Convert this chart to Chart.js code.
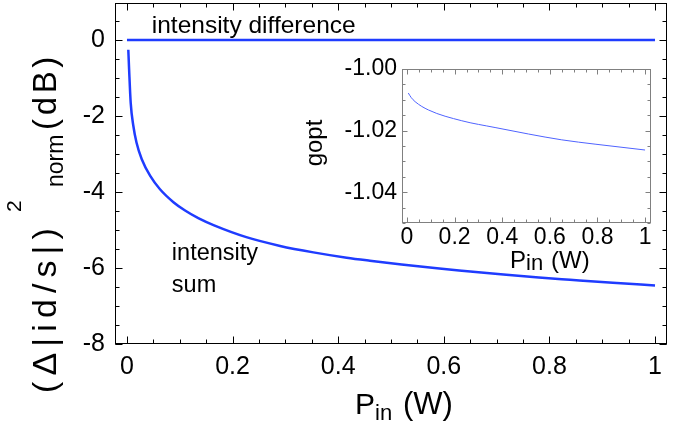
<!DOCTYPE html>
<html><head><meta charset="utf-8">
<script src="https://cdn.jsdelivr.net/npm/chart.js@4.4.1/dist/chart.umd.min.js"></script>
<style>
html,body{margin:0;padding:0;background:#fff;}
#wrap{position:relative;width:686px;height:426px;overflow:hidden;}
#main{position:absolute;left:0;top:0;}
#inset{position:absolute;left:300px;top:55px;}
</style></head><body>
<div id="wrap"><canvas id="main" width="686" height="426"></canvas><canvas id="inset" width="360" height="225"></canvas></div>
<script>
// ---- data ----
const pinMain = [0.0025, 0.004, 0.007, 0.012, 0.018, 0.028, 0.044, 0.0625, 0.088, 0.11, 0.135, 0.165, 0.226, 0.29, 0.353, 0.416, 0.46, 0.52, 0.587, 0.65, 0.713, 0.78, 0.839, 0.92, 1.0];
const sumDb   = [-0.26, -0.77, -1.65, -2.26, -2.70, -3.14, -3.58, -3.93, -4.27, -4.49, -4.69, -4.88, -5.19, -5.42, -5.59, -5.73, -5.81, -5.91, -6.01, -6.09, -6.17, -6.25, -6.31, -6.39, -6.46];
const pinDiff = [0, 1];
const diffDb  = [0, 0];
const mainXTicks = [0, 0.2, 0.4, 0.6, 0.8, 1];
const mainYTicks = [0, -2, -4, -6, -8];
const insetPin = [0.0055, 0.017, 0.034, 0.09, 0.23, 0.37, 0.51, 0.65, 0.79, 1.0];
const gopt     = [-1.0078, -1.0092, -1.0106, -1.0133, -1.0168, -1.019, -1.0211, -1.023, -1.0244, -1.0263];
const insetXTicks = [0, 0.2, 0.4, 0.6, 0.8, 1];
const insetYTicks = [-1.00, -1.02, -1.04];
const annotations = [
  {text: 'intensity difference', x: 0.047, y: 0.18, size: 24.5},
  {text: 'intensity', x: 0.085, y: -5.79, size: 23.5},
  {text: 'sum', x: 0.085, y: -6.63, size: 23.5}
];

const FONT = '"Liberation Sans", Arial, Helvetica, sans-serif';
const BLUE = '#1f3cff';

function pts(xs, ys){ return xs.map((v,i)=>({x:v, y:ys[i]})); }
function range(a, b, step){ const r=[]; for(let v=a; v<=b+1e-9; v+=step) r.push(+v.toFixed(6)); return r; }

function framePlugin(o){
  return {
    id:'frame_'+o.id,
    afterDraw(chart){
      const {ctx, scales:{x, y}} = chart;
      ctx.save();
      ctx.strokeStyle = o.color; ctx.lineWidth = 1;
      const L = Math.round(x.left)+0.5, R = Math.round(x.right)-0.5, T = Math.round(y.top)+0.5, B = Math.round(y.bottom)-0.5;
      ctx.strokeRect(L, T, R-L, B-T);
      ctx.beginPath();
      const tickX = (v, len) => { const p = Math.round(x.getPixelForValue(v))+0.5; if(p<L||p>R) return; ctx.moveTo(p,B); ctx.lineTo(p,B-len); ctx.moveTo(p,T); ctx.lineTo(p,T+len); };
      const tickY = (v, len) => { const p = Math.round(y.getPixelForValue(v))+0.5; if(p<T-1||p>B+1) return; ctx.moveTo(L,p); ctx.lineTo(L+len,p); ctx.moveTo(R,p); ctx.lineTo(R-len,p); };
      o.xMinor.forEach(v=>tickX(v, o.minor));
      o.xMajor.forEach(v=>tickX(v, o.major));
      o.yMinor.forEach(v=>tickY(v, o.minor));
      o.yMajor.forEach(v=>tickY(v, o.major));
      ctx.stroke();
      ctx.restore();
      if(o.extra) o.extra(chart);
    }
  };
}

function spacedText(ctx, txt, x, y, font, target){
  ctx.font = font;
  ctx.letterSpacing = '0px';
  const n = [...txt].length;
  const w = ctx.measureText(txt).width;
  const sp = target ? Math.max(0, (target - w) / n) : 0;
  ctx.letterSpacing = sp.toFixed(2)+'px';
  ctx.fillText(txt, x, y);
  ctx.letterSpacing = '0px';
}

// ---- main chart ----
const mainExtra = (chart) => {
  const {ctx, scales:{x, y}} = chart;
  ctx.save();
  ctx.fillStyle = '#000';
  ctx.textBaseline = 'alphabetic';
  ctx.textAlign = 'left';
  annotations.forEach(a => { ctx.font = a.size + 'px ' + FONT; ctx.fillText(a.text, x.getPixelForValue(a.x), y.getPixelForValue(a.y)); });
  // x title  P_in (W)
  ctx.font = '30px ' + FONT; ctx.fillText('P', 355, 414);
  ctx.font = '22px ' + FONT; ctx.fillText('in', 375, 420);
  ctx.font = '31px ' + FONT; ctx.fillText('(W)', 403, 414);
  // y title (rotated)
  ctx.translate(56, 393);
  ctx.rotate(-Math.PI/2);
  spacedText(ctx, '(\u0394|id/s|)', 0, 0, '34px ' + FONT, 171);
  spacedText(ctx, '2', 181, -35, '21px ' + FONT, 0);
  spacedText(ctx, 'norm', 206, 7, '23px ' + FONT, 52);
  spacedText(ctx, '(dB)', 263, 0, '33px ' + FONT, 77);
  ctx.restore();
};

new Chart(document.getElementById('main'), {
  type: 'line',
  data: { datasets: [
    { data: pts(pinDiff, diffDb), borderColor: BLUE, borderWidth: 2.5, pointRadius: 0, fill: false },
    { data: pts(pinMain, sumDb), borderColor: BLUE, borderWidth: 2.5, pointRadius: 0, fill: false, cubicInterpolationMode: 'monotone' }
  ]},
  options: {
    responsive: false, animation: false, devicePixelRatio: 1,
    layout: { padding: { top: 3, right: 19, left: 0, bottom: 0 } },
    plugins: { legend: { display: false }, tooltip: { enabled: false } },
    scales: {
      x: { type: 'linear', min: -0.0227, max: 1.0227,
        grid: { display: false, drawTicks: false }, border: { display: false },
        afterBuildTicks: s => { s.ticks = mainXTicks.map(v => ({value: v})); },
        afterFit: s => { s.height = 82; s.paddingLeft = 0; s.paddingRight = 0; },
        ticks: { color: '#000', font: { family: FONT, size: 25 }, padding: 8, maxRotation: 0, autoSkip: false,
          callback: v => String(+v.toFixed(2)) } },
      y: { type: 'linear', min: -8, max: 0.97,
        grid: { display: false, drawTicks: false }, border: { display: false },
        afterBuildTicks: s => { s.ticks = mainYTicks.map(v => ({value: v})); },
        afterFit: s => { s.width = 115; s.paddingTop = 0; s.paddingBottom = 0; },
        ticks: { color: '#000', font: { family: FONT, size: 25 }, padding: 10, autoSkip: false,
          callback: v => String(v) } }
    }
  },
  plugins: [framePlugin({ id: 'm', color: '#000', major: 7, minor: 4,
    xMajor: mainXTicks, xMinor: range(0, 1, 0.05), yMajor: mainYTicks, yMinor: range(-8, 0.5, 0.5),
    extra: mainExtra })]
});

// ---- inset chart ----
const insetExtra = (chart) => {
  const {ctx} = chart;
  ctx.save();
  ctx.fillStyle = '#000';
  ctx.textBaseline = 'alphabetic';
  ctx.textAlign = 'left';
  ctx.font = '24px ' + FONT; ctx.fillText('P', 210, 213);
  ctx.font = '22px ' + FONT; ctx.fillText('in', 226, 215);
  ctx.font = '24px ' + FONT; ctx.fillText('(W)', 251, 213);
  ctx.translate(22, 88);
  ctx.rotate(-Math.PI/2);
  ctx.textAlign = 'center';
  ctx.font = '24px ' + FONT; ctx.fillText('gopt', 0, 0);
  ctx.restore();
};

new Chart(document.getElementById('inset'), {
  type: 'line',
  data: { datasets: [
    { data: pts(insetPin, gopt), borderColor: '#4f63ff', borderWidth: 1, pointRadius: 0, fill: false, cubicInterpolationMode: 'monotone' }
  ]},
  options: {
    responsive: false, animation: false, devicePixelRatio: 1,
    layout: { padding: { top: 14, right: 9, left: 0, bottom: 0 } },
    plugins: { legend: { display: false }, tooltip: { enabled: false } },
    scales: {
      x: { type: 'linear', min: -0.021, max: 1.025,
        grid: { display: false, drawTicks: false }, border: { display: false },
        afterBuildTicks: s => { s.ticks = insetXTicks.map(v => ({value: v})); },
        afterFit: s => { s.height = 57; s.paddingLeft = 0; s.paddingRight = 0; },
        ticks: { color: '#000', font: { family: FONT, size: 23 }, padding: 1, maxRotation: 0, autoSkip: false,
          callback: v => String(+v.toFixed(2)) } },
      y: { type: 'linear', min: -1.05, max: -1.0,
        grid: { display: false, drawTicks: false }, border: { display: false },
        afterBuildTicks: s => { s.ticks = insetYTicks.map(v => ({value: v})); },
        afterFit: s => { s.width = 102; s.paddingTop = 0; s.paddingBottom = 0; },
        ticks: { color: '#000', font: { family: FONT, size: 23 }, padding: 5, autoSkip: false,
          callback: v => v.toFixed(2) } }
    }
  },
  plugins: [framePlugin({ id: 'i', color: '#808080', major: 5, minor: 3,
    xMajor: insetXTicks, xMinor: range(0, 1, 0.05), yMajor: insetYTicks, yMinor: range(-1.05, -1.0, 0.005),
    extra: insetExtra })]
});
</script>
</body></html>
